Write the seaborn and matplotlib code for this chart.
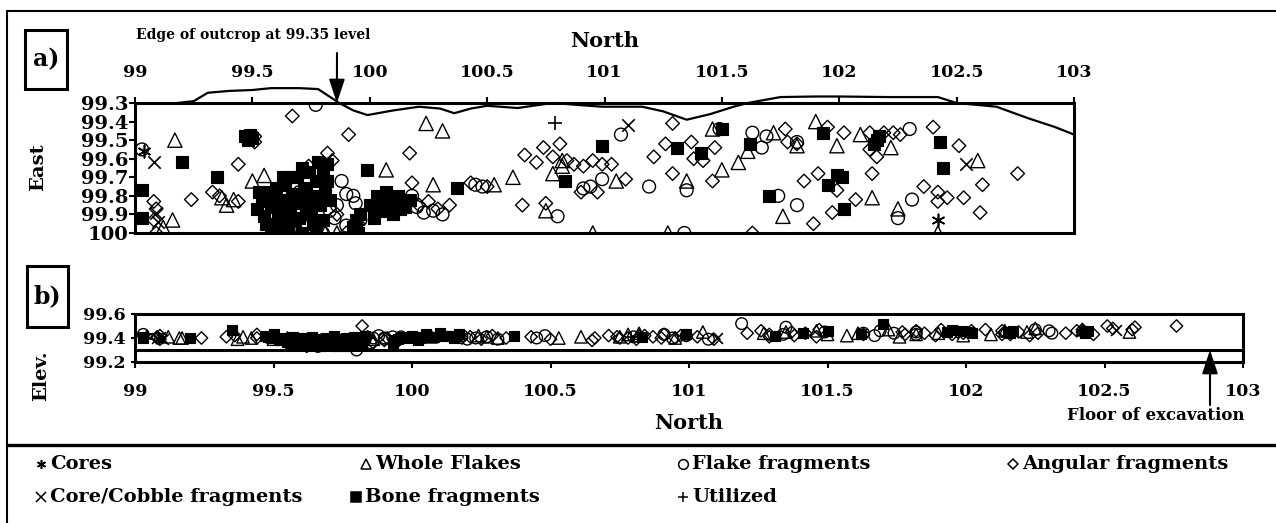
import matplotlib
matplotlib.use("Agg")
import matplotlib.pyplot as plt
from matplotlib.lines import Line2D
from matplotlib.patches import Rectangle
import pandas as pd
import seaborn as sns

# ---------------------------------------------------------------- data
CATEGORIES = ["Cores", "Whole Flakes", "Flake fragments", "Angular fragments",
              "Core/Cobble fragments", "Bone fragments", "Utilized"]

# North / East / Elevation (m) for each recorded item
CORES_N = [99.04, 102.42]
CORES_E = [99.56, 99.93]
CORES_Z = [99.42, 99.45]

COBBLE_N = [99.08, 99.09, 99.10, 101.10, 102.54]
COBBLE_E = [99.62, 99.89, 99.94, 99.42, 99.63]
COBBLE_Z = [99.40, 99.41, 99.39, 99.40, 99.47]

UTIL_N = [100.79]
UTIL_E = [99.41]
UTIL_Z = [99.41]

FLAKE_N = [99.17, 99.12, 99.16, 99.37, 99.39, 99.42, 99.50, 99.55, 99.66, 99.81,
           99.86, 100.07, 100.24, 100.31, 100.27, 100.53, 100.61, 100.78, 100.82, 100.82,
           100.75, 100.95, 101.05, 101.27, 101.35, 101.50, 101.57, 101.46, 101.61, 101.72,
           101.82, 101.76, 101.90, 101.99, 102.09, 102.22, 102.14, 102.25, 102.42, 102.59]
FLAKE_E = [99.50, 99.97, 99.93, 99.81, 99.85, 99.82, 99.72, 99.69, 99.86, 100.00,
           100.00, 99.66, 99.41, 99.45, 99.74, 99.74, 99.70, 99.68, 99.64, 99.61,
           99.88, 100.00, 99.72, 100.00, 99.72, 99.66, 99.62, 99.44, 99.56, 99.46,
           99.53, 99.91, 99.40, 99.53, 99.47, 99.54, 99.81, 99.87, 100.00, 99.61]
FLAKE_Z = [99.40, 99.41, 99.40, 99.39, 99.41, 99.40, 99.39, 99.40, 99.37, 99.36,
           99.39, 99.41, 99.42, 99.40, 99.41, 99.40, 99.41, 99.43, 99.42, 99.44,
           99.41, 99.40, 99.45, 99.44, 99.45, 99.43, 99.42, 99.46, 99.44, 99.47,
           99.43, 99.41, 99.44, 99.42, 99.43, 99.45, 99.46, 99.48, 99.47, 99.45]

FRAG_N = [99.03, 99.77, 99.66, 99.80, 99.83, 99.86, 99.88, 99.90, 99.93, 99.94,
          99.85, 99.90, 99.96, 100.18, 100.20, 100.23, 100.27, 100.31, 100.45, 100.48,
          100.80, 100.91, 100.94, 100.99, 101.07, 101.19, 101.35, 101.34, 101.49, 101.63,
          101.67, 101.69, 101.74, 101.82, 101.82, 102.30, 102.25, 102.31, 99.73, 99.70]
FRAG_E = [99.55, 99.31, 99.98, 100.00, 99.88, 99.85, 99.72, 99.79, 99.80, 99.84,
          99.92, 99.96, 99.93, 99.80, 99.86, 99.89, 99.88, 99.90, 99.74, 99.75,
          99.91, 99.76, 99.75, 99.71, 99.47, 99.75, 99.77, 100.00, 99.44, 99.46,
          99.54, 99.48, 99.80, 99.85, 99.51, 99.44, 99.92, 99.82, 99.90, 99.78]
FRAG_Z = [99.43, 99.35, 99.33, 99.30, 99.38, 99.40, 99.42, 99.39, 99.41, 99.37,
          99.36, 99.40, 99.41, 99.42, 99.39, 99.40, 99.41, 99.39, 99.40, 99.42,
          99.41, 99.43, 99.40, 99.42, 99.39, 99.52, 99.49, 99.43, 99.45, 99.44,
          99.42, 99.46, 99.44, 99.43, 99.45, 99.46, 99.47, 99.44, 99.34, 99.37]

ANG_N = [99.08, 99.09, 99.08, 99.09, 99.24, 99.33, 99.36, 99.44, 99.44, 99.51,
         99.51, 99.67, 99.82, 99.84, 99.91, 100.17, 100.18, 100.21, 100.25, 100.29,
         100.34, 100.43, 100.50, 100.66, 100.71, 100.74, 100.81, 100.78, 100.84, 100.87,
         100.91, 100.95, 100.99, 101.03, 101.09, 100.90, 100.97, 100.65, 100.75, 101.21,
         101.29, 101.26, 101.29, 101.37, 101.38, 101.42, 101.47, 101.46, 101.63, 101.77,
         101.78, 101.82, 101.85, 101.91, 101.89, 101.97, 101.95, 102.02, 101.99, 102.07,
         102.13, 102.19, 102.23, 102.26, 102.13, 102.16, 102.14, 102.36, 102.42, 102.42,
         102.46, 102.53, 102.40, 102.51, 102.61, 102.60, 102.76, 99.86, 99.95, 99.74,
         99.62, 99.90]
ANG_E = [99.83, 99.87, 99.93, 100.00, 99.82, 99.78, 99.80, 99.83, 99.63, 99.48,
         99.51, 99.37, 99.57, 99.61, 99.47, 99.57, 99.73, 99.85, 99.83, 99.87,
         99.85, 99.73, 99.75, 99.58, 99.62, 99.54, 99.52, 99.59, 99.61, 99.63,
         99.64, 99.61, 99.63, 99.63, 99.71, 99.78, 99.78, 99.85, 99.84, 99.59,
         99.41, 99.52, 99.68, 99.51, 99.60, 99.61, 99.54, 99.72, 100.00, 99.44,
         99.51, 99.52, 99.72, 99.68, 99.95, 99.89, 99.43, 99.46, 99.77, 99.82,
         99.46, 99.46, 99.46, 99.47, 99.55, 99.59, 99.68, 99.75, 99.78, 99.83,
         99.81, 99.81, 99.43, 99.53, 99.74, 99.89, 99.68, 99.90, 99.95, 99.64,
         100.00, 100.00]
ANG_Z = [99.41, 99.39, 99.40, 99.42, 99.40, 99.41, 99.42, 99.40, 99.43, 99.41,
         99.39, 99.38, 99.50, 99.41, 99.40, 99.42, 99.40, 99.41, 99.39, 99.42,
         99.40, 99.41, 99.39, 99.40, 99.42, 99.41, 99.39, 99.40, 99.42, 99.41,
         99.43, 99.40, 99.42, 99.41, 99.39, 99.40, 99.42, 99.38, 99.40, 99.44,
         99.41, 99.46, 99.43, 99.45, 99.42, 99.44, 99.47, 99.41, 99.43, 99.45,
         99.43, 99.46, 99.44, 99.47, 99.42, 99.45, 99.43, 99.46, 99.44, 99.47,
         99.43, 99.45, 99.42, 99.44, 99.46, 99.43, 99.45, 99.44, 99.47, 99.45,
         99.43, 99.48, 99.46, 99.50, 99.49, 99.47, 99.50, 99.36, 99.39, 99.37,
         99.33, 99.38]

BONE_N = [99.03, 99.03, 99.20, 99.35, 99.47, 99.49, 99.48, 99.50,
          99.52, 99.54, 99.55, 99.57, 99.58, 99.60, 99.60, 99.62, 99.63, 99.64,
          99.65, 99.66, 99.67, 99.68, 99.69, 99.70, 99.71, 99.72, 99.73, 99.74,
          99.75, 99.76, 99.77, 99.78, 99.79, 99.80, 99.81, 99.82, 99.83, 99.58,
          99.53, 99.63, 99.56, 99.59, 99.61, 99.64, 99.66, 99.68, 99.70, 99.71,
          99.73, 99.75, 99.77, 99.78, 99.80, 99.82, 99.55, 99.62,
          99.93, 99.95, 99.96, 99.99, 99.94,
          100.00, 100.03, 100.05, 100.08, 100.10, 100.12, 100.15, 100.17, 100.02, 100.07,
          100.04, 100.13,
          100.37, 100.83, 100.99, 101.31, 101.41, 101.50, 101.62, 101.70, 101.93, 101.99,
          101.95, 102.02, 102.01, 102.16, 102.17, 102.15, 102.43, 102.44]
BONE_E = [99.77, 99.92, 99.62, 99.70, 99.48, 99.47, 99.50, 99.49,
          99.87, 99.83, 99.91, 99.78, 99.86, 99.76, 99.95, 99.82, 99.90, 99.74,
          99.99, 99.86, 99.79, 99.93, 99.70, 99.84, 100.00, 99.76, 99.89, 99.67,
          99.81, 99.95, 99.72, 99.62, 99.85, 99.67, 99.76, 99.63, 99.82, 99.96,
          99.78, 99.70, 99.95, 99.83, 99.88, 99.93, 99.70, 99.80, 99.92, 99.65,
          99.78, 99.88, 99.98, 99.80, 99.93, 99.72, 99.80, 99.98,
          99.97, 100.00, 99.90, 99.66, 99.93,
          99.85, 99.80, 99.88, 99.83, 99.90, 99.80, 99.86, 99.82, 99.92, 99.78,
          99.84, 99.87,
          99.76, 99.72, 99.53, 99.54, 99.57, 99.44, 99.52, 99.80, 99.46, 99.69,
          99.74, 99.87, 99.70, 99.50, 99.48, 99.52, 99.51, 99.65]
BONE_Z = [99.41, 99.40, 99.40, 99.47, 99.42, 99.40, 99.41, 99.43,
          99.38, 99.40, 99.37, 99.41, 99.39, 99.36, 99.40, 99.34, 99.38, 99.41,
          99.36, 99.39, 99.33, 99.37, 99.40, 99.35, 99.38, 99.42, 99.34, 99.39,
          99.36, 99.40, 99.33, 99.38, 99.41, 99.35, 99.39, 99.37, 99.42, 99.35,
          99.39, 99.40, 99.36, 99.38, 99.35, 99.37, 99.39, 99.34, 99.36, 99.40,
          99.33, 99.35, 99.37, 99.34, 99.38, 99.36, 99.39, 99.34,
          99.36, 99.39, 99.41, 99.40, 99.38,
          99.42, 99.40, 99.43, 99.41, 99.44, 99.42, 99.40, 99.43, 99.38, 99.41,
          99.41, 99.42,
          99.42, 99.41, 99.43, 99.42, 99.44, 99.46, 99.43, 99.52, 99.45, 99.46,
          99.47, 99.44, 99.45, 99.44, 99.46, 99.45, 99.44, 99.46]

# Outline of the outcrop edge at the 99.35 level
OUTCROP_N = [99.18, 99.25, 99.31, 99.40, 99.50, 99.58, 99.70, 99.78, 99.87, 99.93,
             99.99, 100.10, 100.21, 100.30, 100.36, 100.43, 100.50, 100.63, 100.75, 100.79,
             100.88, 100.99, 101.16, 101.25, 101.35, 101.45, 101.55, 101.61, 101.75, 101.90,
             102.00, 102.20, 102.42, 102.50, 102.67, 102.80, 102.92, 103.00]
OUTCROP_E = [99.30, 99.29, 99.245, 99.235, 99.23, 99.22, 99.22, 99.225, 99.30, 99.34,
             99.365, 99.34, 99.32, 99.33, 99.355, 99.33, 99.315, 99.327, 99.305, 99.30,
             99.31, 99.32, 99.32, 99.345, 99.39, 99.36, 99.32, 99.30, 99.268, 99.265,
             99.265, 99.268, 99.268, 99.30, 99.32, 99.38, 99.43, 99.47]

NORTH_TICKS = [99, 99.5, 100, 100.5, 101, 101.5, 102, 102.5, 103]
NORTH_LABELS = ["99", "99.5", "100", "100.5", "101", "101.5", "102", "102.5", "103"]
EAST_TICKS = [99.3, 99.4, 99.5, 99.6, 99.7, 99.8, 99.9, 100.0]
EAST_LABELS = ["99.3", "99.4", "99.5", "99.6", "99.7", "99.8", "99.9", "100"]
ELEV_TICKS = [99.2, 99.4, 99.6]
ELEV_LABELS = ["99.2", "99.4", "99.6"]
FLOOR_LEVEL = 99.3
EDGE_NORTH = 99.86

SERIES = {
    "Cores": (CORES_N, CORES_E, CORES_Z),
    "Whole Flakes": (FLAKE_N, FLAKE_E, FLAKE_Z),
    "Flake fragments": (FRAG_N, FRAG_E, FRAG_Z),
    "Angular fragments": (ANG_N, ANG_E, ANG_Z),
    "Core/Cobble fragments": (COBBLE_N, COBBLE_E, COBBLE_Z),
    "Bone fragments": (BONE_N, BONE_E, BONE_Z),
    "Utilized": (UTIL_N, UTIL_E, UTIL_Z),
}

frames = []
for cat in CATEGORIES:
    n, e, z = SERIES[cat]
    frames.append(pd.DataFrame({"North": n, "East": e, "Elev": z, "type": cat}))
df = pd.concat(frames, ignore_index=True)
outcrop = pd.DataFrame({"North": OUTCROP_N, "East": OUTCROP_E})

# ---------------------------------------------------------------- style
sns.set_theme(style="white")
plt.rcParams["font.family"] = ["DejaVu Serif", "DejaVu Sans"]
plt.rcParams["font.weight"] = "bold"
plt.rcParams["axes.labelweight"] = "bold"

INK = "black"
MARKERS = {
    "Bone fragments": dict(marker="s", facecolor=INK, edgecolor=INK, linewidth=0.8),
    "Whole Flakes": dict(marker="^", facecolor="none", edgecolor=INK, linewidth=1.0),
    "Flake fragments": dict(marker="o", facecolor="none", edgecolor=INK, linewidth=1.0),
    "Angular fragments": dict(marker="D", facecolor="none", edgecolor=INK, linewidth=1.0),
    "Cores": dict(marker=(6, 2, 0), linewidth=1.2),
    "Core/Cobble fragments": dict(marker="x", linewidth=1.2),
    "Utilized": dict(marker="+", linewidth=1.2),
}
SIZE_A = {"s": 72, "^": 105, "o": 85, "D": 48, "x": 80, "+": 100}
SIZE_B = {"s": 55, "^": 80, "o": 70, "D": 40, "x": 60, "+": 80}
KEY_SIZE = {"s": 6.5, "^": 7.5, "o": 7.0, "D": 5.5, "x": 6.5, "+": 7.5}
DRAW_ORDER = ["Bone fragments", "Whole Flakes", "Flake fragments", "Angular fragments",
              "Cores", "Core/Cobble fragments", "Utilized"]

W, H = 1276, 523
fig = plt.figure(figsize=(W / 100, H / 100), dpi=100)
fig.patch.set_facecolor("white")


def fx(px):
    return px / W


def fy(py):
    return 1 - py / H


def rect(x0, y0, x1, y1):
    return [fx(x0), fy(y1), (x1 - x0) / W, (y1 - y0) / H]


def marker_key(m):
    return "x" if isinstance(m, tuple) else m


ax_a = fig.add_axes(rect(135, 103, 1074, 233))
ax_b = fig.add_axes(rect(135, 314, 1243, 362))


def draw_points(ax, ycol, sizes):
    for cat in DRAW_ORDER:
        kw = dict(MARKERS[cat])
        sub = df[df["type"] == cat]
        extra = {} if "facecolor" in kw else {"color": INK}
        sns.scatterplot(data=sub, x="North", y=ycol, ax=ax,
                        s=sizes[marker_key(kw["marker"])],
                        legend=False, zorder=3, **extra, **kw)


# ---- panel a: plan view
draw_points(ax_a, "East", SIZE_A)
sns.lineplot(data=outcrop, x="North", y="East", ax=ax_a, color=INK, linewidth=1.6,
             estimator=None, sort=False, clip_on=False, zorder=4)
ax_a.set_xlim(99, 103)
ax_a.set_ylim(100, 99.3)
ax_a.xaxis.tick_top()
ax_a.xaxis.set_label_position("top")
ax_a.set_xticks(NORTH_TICKS, NORTH_LABELS)
ax_a.set_yticks(EAST_TICKS, EAST_LABELS)
ax_a.tick_params(axis="x", which="both", top=True, bottom=False, direction="out",
                 length=4, width=1.5, color=INK, pad=12, labelsize=12.5, labelcolor=INK)
ax_a.tick_params(axis="y", left=True, direction="out", length=4, width=1.5, color=INK,
                 pad=1, labelsize=14, labelcolor=INK)
ax_a.set_xlabel("North", fontsize=15, fontweight="bold", color=INK)
ax_a.xaxis.set_label_coords(0.5, (233 - 47) / 130)
ax_a.set_ylabel("East", fontsize=14, fontweight="bold", color=INK)
ax_a.yaxis.set_label_coords((47 - 135) / 939, (233 - 167) / 130)

# ---- panel b: elevation profile
draw_points(ax_b, "Elev", SIZE_B)
ax_b.axhline(FLOOR_LEVEL, color=INK, linewidth=2.2, zorder=2)
ax_b.set_xlim(99, 103)
ax_b.set_ylim(99.2, 99.6)
ax_b.set_xticks(NORTH_TICKS, NORTH_LABELS)
ax_b.set_yticks(ELEV_TICKS, ELEV_LABELS)
ax_b.tick_params(axis="x", bottom=True, direction="out", length=4, width=1.5, color=INK,
                 pad=11, labelsize=12.5, labelcolor=INK)
ax_b.tick_params(axis="y", left=True, direction="out", length=3, width=1.5, color=INK,
                 pad=4, labelsize=12.5, labelcolor=INK)
ax_b.set_xlabel("North", fontsize=15, fontweight="bold", color=INK)
ax_b.xaxis.set_label_coords(0.5, (362 - 413) / 48)
ax_b.set_ylabel("Elev.", fontsize=14, fontweight="bold", color=INK)
ax_b.yaxis.set_label_coords((50 - 135) / 1108, (362 - 376) / 48)

for ax in (ax_a, ax_b):
    ax.set_facecolor("white")
    for sp in ax.spines.values():
        sp.set_visible(True)
        sp.set_color(INK)
        sp.set_linewidth(2.2)

# ---- annotations
fig.text(fx(253), fy(35), "Edge of outcrop at 99.35 level", ha="center", va="center",
         fontsize=10, fontweight="bold", color=INK)
ax_a.annotate("", xy=(EDGE_NORTH, 99.30), xycoords="data",
              xytext=(fx(337), fy(53)), textcoords="figure fraction",
              arrowprops=dict(arrowstyle="-|>,head_length=0.9,head_width=0.3",
                              mutation_scale=16, lw=1.5, color=INK,
                              shrinkA=0, shrinkB=0),
              annotation_clip=False)

floor_north = 99 + (1210 - 135) / 277
ax_b.annotate("", xy=(floor_north, FLOOR_LEVEL), xycoords="data",
              xytext=(fx(1210), fy(405)), textcoords="figure fraction",
              arrowprops=dict(arrowstyle="-|>,head_length=0.9,head_width=0.3",
                              mutation_scale=16, lw=1.5, color=INK,
                              shrinkA=0, shrinkB=0),
              annotation_clip=False)
fig.text(fx(1156), fy(416), "Floor of excavation", ha="center", va="center",
         fontsize=12, fontweight="bold", color=INK)

# panel tags
for tag, (x0, y0, x1, y1) in {"a)": (25, 30, 67, 89), "b)": (27, 266, 68, 327)}.items():
    fig.add_artist(Rectangle((fx(x0), fy(y1)), (x1 - x0) / W, (y1 - y0) / H,
                             transform=fig.transFigure, fill=False,
                             edgecolor=INK, linewidth=2.2))
    fig.text(fx((x0 + x1) / 2), fy((y0 + y1) / 2), tag, ha="center", va="center",
             fontsize=17, fontweight="bold", color=INK)

# frame rules
fig.add_artist(Line2D([fx(7), 1], [fy(11), fy(11)], transform=fig.transFigure,
                      color=INK, linewidth=1.5))
fig.add_artist(Line2D([fx(7), fx(7)], [fy(11), 0], transform=fig.transFigure,
                      color=INK, linewidth=1.5))
fig.add_artist(Line2D([fx(7), 1], [fy(445), fy(445)], transform=fig.transFigure,
                      color=INK, linewidth=2.4))

# ---- key
KEY_POS = {
    "Cores": (41, 464), "Whole Flakes": (366, 464), "Flake fragments": (683, 464),
    "Angular fragments": (1013, 464), "Core/Cobble fragments": (41, 497),
    "Bone fragments": (356, 497), "Utilized": (683, 497),
}
for cat, (px, py) in KEY_POS.items():
    kw = MARKERS[cat]
    m = kw["marker"]
    filled = kw.get("facecolor", "none") != "none"
    fig.add_artist(Line2D([fx(px)], [fy(py)], transform=fig.transFigure,
                          marker=m, markersize=KEY_SIZE[marker_key(m)], linestyle="none",
                          markerfacecolor=INK if filled else "none",
                          markeredgecolor=INK, markeredgewidth=1.1, color=INK))
    fig.text(fx(px + 9), fy(py), cat, ha="left", va="center", fontsize=14,
             fontweight="bold", color=INK)

fig.savefig("out.png", dpi=100, facecolor="white")
